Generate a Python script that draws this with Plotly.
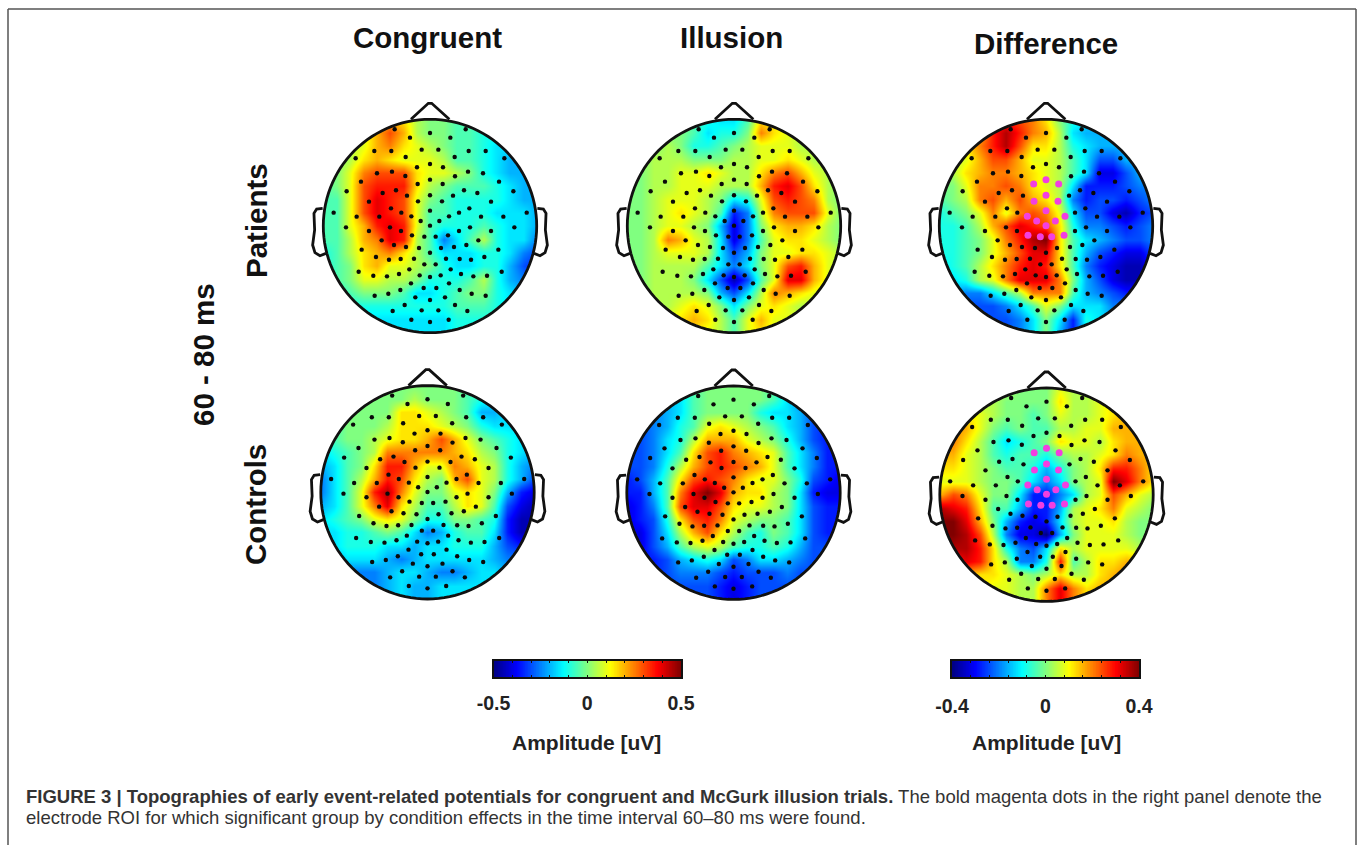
import numpy as np
import plotly.graph_objects as go

W, H = 1358, 845

COLUMN_TITLES = ["Congruent", "Illusion", "Difference"]
ROW_TITLES = ["Patients", "Controls"]
WINDOW_LABEL = "60 - 80 ms"
BAR_TITLE = "Amplitude [uV]"
CAPTION_BOLD = "FIGURE 3 | Topographies of early event-related potentials for congruent and McGurk illusion trials."
CAPTION_REST = " The bold magenta dots in the right panel denote the"
CAPTION_LINE2 = "electrode ROI for which significant group by condition effects in the time interval 60–80 ms were found."

# scalp grid (head radius = 320 units)
GRID = [-320, -280, -240, -200, -160, -120, -80, -40, 0, 40, 80, 120, 160, 200, 240, 280, 320]

# Values are tenths of each panel's colour limit, rows listed from the nose down
congruent_patients = [
    [0,0,1,1,3,4,3,1,0,0,-1,-1,-1,-2,-2,-2,-2],
    [0,0,1,2,4,6,4,1,0,0,-1,-1,-2,-2,-2,-2,-2],
    [0,0,1,2,4,5,3,2,1,0,-1,-1,-2,-3,-3,-3,-3],
    [0,0,1,3,4,3,2,2,2,1,-1,-1,-2,-3,-4,-4,-4],
    [0,0,2,5,6,6,6,3,2,2,1,0,-2,-3,-4,-4,-4],
    [-1,0,2,6,7,7,7,3,1,0,-1,-1,-1,-2,-3,-4,-4],
    [-1,-1,2,6,8,7,6,2,0,-1,-2,-2,-2,-2,-3,-4,-4],
    [-1,-1,2,6,8,7,6,2,-1,-1,-2,-2,-2,-3,-3,-3,-4],
    [-1,-1,2,4,7,8,7,2,-1,-2,-2,-2,-1,-2,-3,-3,-4],
    [-1,-1,1,4,5,8,7,1,-1,-5,-3,-1,1,-2,-3,-3,-5],
    [-2,-1,1,3,4,5,3,1,-1,-3,-3,-3,-2,-2,-3,-5,-6],
    [-2,-1,0,3,4,2,2,1,0,-2,-3,-3,-2,-2,-4,-6,-7],
    [-2,-1,0,2,2,1,1,0,-2,-2,-2,-1,1,-2,-4,-5,-6],
    [-3,-2,-1,0,0,0,-1,-3,-3,-2,-1,0,0,-2,-3,-4,-4],
    [-3,-3,-2,-2,-2,-2,-2,-2,-2,-2,-1,-1,-1,-2,-3,-3,-3],
    [-3,-3,-3,-3,-3,-3,-3,-3,-3,-3,-2,-2,-2,-2,-3,-3,-3],
    [-3,-3,-3,-3,-3,-3,-3,-3,-3,-3,-2,-2,-2,-2,-3,-3,-3],
]
illusion_patients = [
    [0,0,0,0,0,-1,-2,-3,-3,-1,3,3,2,1,0,0,0],
    [0,0,0,0,0,-1,-3,-2,-2,0,5,3,2,1,1,0,0],
    [0,0,0,1,0,-2,-2,-1,0,1,2,2,2,1,1,0,0],
    [0,0,1,1,1,0,0,0,1,1,2,2,3,2,1,1,0],
    [0,0,1,1,2,2,3,2,1,1,3,5,6,4,2,1,0],
    [0,0,1,1,2,2,2,1,1,1,4,7,8,6,3,1,0],
    [0,0,1,2,2,2,1,0,-3,-2,2,6,7,6,5,1,0],
    [0,0,1,2,3,2,1,-1,-7,-5,1,5,6,6,6,2,0],
    [0,0,1,2,2,1,0,-4,-8,-5,0,3,4,4,3,1,0],
    [0,0,1,5,4,2,1,-3,-8,-5,-1,2,3,3,2,1,0],
    [0,0,1,2,2,2,1,-3,-6,-4,0,2,2,3,3,2,1],
    [0,0,1,1,1,1,-1,-3,-5,-3,0,2,6,7,4,2,1],
    [0,0,1,1,1,0,-3,-6,-9,-6,-1,2,8,8,4,2,1],
    [0,0,1,1,1,1,0,-4,-6,-3,1,5,4,3,2,1,1],
    [0,0,1,1,2,3,2,0,-3,0,2,3,2,1,1,1,0],
    [0,0,1,2,3,4,3,1,-1,2,4,2,2,1,1,1,0],
    [0,0,1,2,3,3,2,1,-1,2,3,2,2,1,1,1,0],
]
difference_patients = [
    [1,2,3,4,6,7,6,5,3,0,-2,-3,-4,-4,-4,-4,-4],
    [1,2,3,4,7,9,7,5,4,1,-3,-4,-4,-4,-4,-4,-4],
    [1,2,3,5,7,9,6,3,3,1,-2,-3,-4,-4,-4,-4,-4],
    [0,1,2,4,6,6,4,2,2,1,-1,-3,-6,-6,-4,-4,-4],
    [0,1,3,4,5,5,4,3,2,1,-1,-3,-8,-8,-6,-4,-4],
    [0,0,2,5,5,6,5,3,2,1,-3,-7,-7,-7,-6,-5,-5],
    [-1,0,1,5,6,4,6,4,3,1,-5,-7,-6,-6,-7,-6,-5],
    [-2,-1,0,2,5,2,5,6,5,2,-3,-6,-6,-8,-9,-7,-6],
    [-2,-2,-1,1,4,6,8,7,6,3,-2,-5,-5,-6,-7,-6,-5],
    [-2,-2,-1,0,2,5,7,9,10,3,-1,-3,-4,-5,-6,-6,-5],
    [-2,-2,-1,0,2,4,6,8,8,3,-1,-4,-6,-7,-8,-8,-6],
    [-3,-2,-1,1,3,5,7,8,7,3,-1,-5,-7,-8,-9,-9,-7],
    [-3,-3,-2,1,2,5,8,8,8,5,0,-4,-6,-8,-9,-9,-7],
    [-4,-4,-5,-5,-3,-1,1,5,5,5,-1,-4,-5,-6,-7,-7,-6],
    [-5,-5,-6,-6,-6,-5,-3,-1,2,0,-3,-3,-3,-5,-5,-5,-5],
    [-6,-6,-6,-6,-6,-6,-5,-3,0,-3,-7,-2,-3,-4,-4,-4,-4],
    [-6,-6,-6,-6,-6,-6,-5,-3,0,-4,-7,-3,-3,-4,-4,-4,-4],
]
congruent_controls = [
    [-1,-1,0,0,0,0,0,0,0,0,0,-1,-2,-3,-3,-3,-3],
    [-1,-1,0,0,0,0,0,1,0,0,0,-1,-2,-3,-3,-3,-3],
    [-1,-1,0,0,0,0,3,3,2,1,0,-1,-4,-4,-3,-3,-3],
    [-2,-1,0,0,0,1,3,3,3,2,1,0,-2,-3,-3,-3,-3],
    [-2,-1,0,0,1,2,3,3,4,6,4,2,0,-1,-2,-3,-4],
    [-3,-2,-1,0,1,5,5,5,5,5,4,3,1,0,-2,-3,-4],
    [-4,-3,-1,0,3,7,7,4,2,2,5,4,2,1,-2,-4,-5],
    [-5,-3,-1,1,4,7,6,3,1,0,4,6,2,1,-2,-4,-6],
    [-5,-3,-1,2,7,9,5,2,0,0,2,3,2,0,-4,-7,-8],
    [-4,-3,-1,2,5,8,3,1,-1,-1,1,3,2,-1,-6,-8,-9],
    [-3,-2,-1,0,2,3,2,0,-2,-2,0,0,-1,-2,-7,-9,-9],
    [-3,-3,-2,-2,-1,0,-1,-3,-5,-4,-2,-1,-1,-3,-7,-9,-9],
    [-3,-3,-2,-2,-2,-3,-3,-4,-3,-3,-2,-2,-2,-4,-6,-7,-7],
    [-4,-4,-3,-3,-3,-4,-5,-4,-3,-3,-3,-3,-3,-4,-5,-5,-5],
    [-5,-5,-5,-5,-5,-4,-3,-3,-4,-5,-5,-4,-3,-3,-4,-4,-4],
    [-5,-5,-5,-5,-5,-4,-3,-4,-4,-3,-3,-3,-3,-3,-4,-4,-4],
    [-5,-5,-5,-5,-5,-4,-3,-4,-4,-3,-3,-3,-3,-3,-4,-4,-4],
]
illusion_controls = [
    [-6,-6,-5,-4,-3,-1,0,0,0,0,0,-1,-3,-5,-6,-6,-6],
    [-6,-6,-5,-4,-3,-1,0,0,0,0,0,-1,-3,-5,-6,-6,-6],
    [-6,-6,-5,-4,-3,-1,0,0,0,0,-2,-3,-3,-4,-6,-6,-6],
    [-6,-6,-5,-4,-2,-1,2,3,2,1,0,-1,-3,-4,-6,-7,-7],
    [-6,-6,-5,-3,-2,1,4,4,4,2,1,0,-2,-4,-6,-7,-7],
    [-6,-6,-5,-3,-1,3,6,7,5,4,3,2,-1,-3,-5,-7,-7],
    [-6,-6,-5,-2,1,4,6,7,6,5,4,2,-1,-3,-5,-7,-7],
    [-7,-6,-4,-1,3,6,7,6,5,3,2,2,0,-2,-6,-7,-8],
    [-7,-7,-4,-1,5,8,10,8,4,3,3,1,0,-3,-7,-8,-8],
    [-8,-7,-5,-1,6,8,8,6,3,2,2,1,0,-3,-6,-7,-7],
    [-8,-7,-6,-2,3,6,7,5,2,1,0,0,-1,-3,-6,-7,-7],
    [-8,-8,-6,-3,1,4,6,3,1,-1,-2,0,-1,-3,-6,-7,-7],
    [-8,-8,-6,-4,-1,1,2,1,-1,-2,-2,-1,-2,-4,-6,-6,-6],
    [-8,-7,-7,-6,-4,-3,-2,-3,-6,-5,-3,-3,-4,-5,-6,-6,-6],
    [-7,-7,-7,-6,-5,-5,-5,-6,-7,-6,-6,-6,-5,-6,-6,-6,-6],
    [-7,-7,-7,-6,-6,-6,-6,-7,-8,-7,-6,-6,-6,-6,-6,-6,-6],
    [-7,-7,-7,-6,-6,-6,-6,-7,-8,-7,-6,-6,-6,-6,-6,-6,-6],
]
difference_controls = [
    [1,1,1,1,1,1,0,0,0,2,1,1,1,3,4,4,4],
    [3,3,2,1,1,0,0,0,0,3,1,1,2,3,4,4,4],
    [5,4,3,2,1,0,0,-1,0,2,1,1,2,3,4,4,4],
    [5,5,4,2,0,-1,0,-1,-1,1,1,2,2,4,4,4,4],
    [5,5,3,1,-1,-3,-2,-1,0,3,2,2,1,3,4,4,4],
    [4,4,2,1,-1,-2,-1,-1,-2,0,1,1,2,3,5,4,4],
    [3,3,2,1,0,-1,-1,-2,-4,-2,0,1,3,7,7,5,3],
    [2,2,2,1,0,0,-1,-3,-5,-3,0,1,2,10,8,5,3],
    [4,6,5,2,0,0,-3,-7,-7,-5,-3,1,2,6,4,2,1],
    [9,8,7,3,-1,-1,-4,-7,-7,-4,1,2,3,5,2,1,0],
    [10,10,8,4,0,-4,-7,-8,-7,-3,1,2,2,3,1,0,0],
    [10,10,9,6,1,-5,-8,-8,-10,-4,0,2,2,2,1,0,0],
    [9,9,9,7,3,-2,-5,-6,-3,3,1,2,2,2,2,1,1],
    [5,7,8,7,3,1,-5,-5,-2,7,-1,1,3,3,4,4,3],
    [4,4,4,3,3,2,1,0,1,3,1,1,3,4,5,4,4],
    [3,3,3,3,2,2,1,1,5,8,5,3,4,4,4,4,4],
    [3,3,3,3,2,2,1,1,5,8,5,3,4,4,4,4,4],
]

# Electrode montage, head units
electrode_x = [-106,107,0,-60,61,-167,-116,-25,25,116,167,-223,-73,74,223,0,-39,39,-159,-114,-74,75,114,159,
    -207,0,-37,38,207,-250,-102,-142,-69,102,142,250,69,-183,-36,0,36,183,-117,-86,0,118,87,57,-289,-220,-152,
    -56,-28,28,153,220,290,-252,-120,0,120,253,-183,-87,-54,-17,17,54,87,183,-145,145,-108,-72,-33,33,72,109,0,
    -205,205,-162,-123,-88,-48,-17,17,48,89,123,163,-62,62,-214,-170,-129,-93,-31,0,32,93,130,171,215,-57,57,
    -19,19,-89,89,-166,-125,-44,45,125,167,0,-76,75,-112,-25,25,112,-56,56,0]
electrode_y = [290,290,279,265,265,225,225,229,229,225,225,203,207,207,203,186,176,176,158,163,150,149,163,158,
    133,139,126,126,133,104,107,99,91,107,99,104,91,73,74,92,74,73,53,40,46,53,40,29,40,28,28,
    29,15,15,28,28,40,-4,-4,1,-4,-4,-15,-15,-28,-32,-32,-28,-15,-15,-43,-43,-57,-63,-66,-66,-63,-57,-80,
    -71,-71,-93,-101,-99,-98,-115,-115,-98,-99,-101,-93,-130,-130,-137,-149,-151,-144,-148,-153,-148,-144,-151,-149,-137,-172,-172,
    -186,-186,-192,-192,-209,-203,-214,-214,-203,-209,-222,-237,-237,-255,-253,-253,-255,-281,-281,-288]
roi_x = [-37,0,38,-36,0,36,0,-56,-28,28,57,0,-54,-17,17,54]
roi_y = [126,139,126,74,92,74,46,29,15,15,29,1,-28,-32,-32,-28]

nose_x = [-57,-5,5,58]
nose_y = [320,368,368,320]
ear_x = [322,340,348,346,352,345,330,312]
ear_y = [53,51,38,-12,-57,-80,-89,-82]

LIMITS = [0.5, 0.5, 0.4]
PANELS = [
    (congruent_patients, 0, 0, 430, 226), (illusion_patients, 1, 0, 734, 226), (difference_patients, 2, 0, 1046, 226),
    (congruent_controls, 0, 1, 427.5, 492.3), (illusion_controls, 1, 1, 733.5, 492.7), (difference_controls, 2, 1, 1046.5, 494.7),
]
BARS = [(-0.5, 0, 0.5, 493.5, 681, 8), (-0.4, 0, 0.4, 952, 1139, 11)]

JET = [[0, "#000080"], [0.125, "#0000ff"], [0.375, "#00ffff"], [0.5, "#80ff80"],
       [0.625, "#ffff00"], [0.875, "#ff0000"], [1, "#800000"]]
R_PX = 106.7
BOX_PX = 130
FONT = "Liberation Sans, Arial, sans-serif"

fig = go.Figure()
layout = dict(width=W, height=H, margin=dict(l=0, r=0, t=0, b=0, pad=0, autoexpand=False), paper_bgcolor="white",
              plot_bgcolor="white", showlegend=False, hovermode=False)
shapes = []
annotations = []


def px_x(x):
    return x / W


def px_y(y):
    return 1 - y / H


def text(s, x, y, size, angle=0, bold=True, anchor="center", color="#111111"):
    annotations.append(dict(text=f"<b>{s}</b>" if bold else s, x=px_x(x), y=px_y(y), xref="paper", yref="paper",
                            xanchor=anchor, yanchor="middle", showarrow=False, textangle=angle,
                            font=dict(family=FONT, size=size, color=color)))


span = BOX_PX * 320 / R_PX
theta = np.radians(np.arange(0, 361, 3))
circle_x, circle_y = 320 * np.cos(theta), 320 * np.sin(theta)
circle_path = "M" + " L".join(f"{a:.1f},{b:.1f}" for a, b in zip(circle_x, circle_y)) + " Z"
mask_path = "M-350,-350 L350,-350 L350,350 L-350,350 Z " + circle_path
nose_path = "M" + " L".join(f"{a},{b}" for a, b in zip(nose_x, nose_y))
ear_r = "M" + " L".join(f"{a},{b}" for a, b in zip(ear_x, ear_y))
ear_l = "M" + " L".join(f"{-a},{b}" for a, b in zip(ear_x, ear_y))
HEAD_LINE = dict(color="#111111", width=2.8)

for i, (grid, col, row, cx, cy) in enumerate(PANELS, start=1):
    lim = LIMITS[col]
    xa, ya = f"x{i}", f"y{i}"
    layout[f"xaxis{i}"] = dict(domain=[px_x(cx - BOX_PX), px_x(cx + BOX_PX)], range=[-span, span], visible=False,
                               anchor=ya, fixedrange=True)
    layout[f"yaxis{i}"] = dict(domain=[px_y(cy + BOX_PX), px_y(cy - BOX_PX)], range=[-span, span], visible=False,
                               anchor=xa, fixedrange=True)
    fig.add_trace(go.Heatmap(x=GRID, y=GRID[::-1], z=[[v * lim / 10 for v in r] for r in grid], zmin=-lim, zmax=lim,
                             colorscale=JET, showscale=False, zsmooth="best", xaxis=xa, yaxis=ya, hoverinfo="skip"))
    fig.add_trace(go.Scatter(x=electrode_x, y=electrode_y, mode="markers", xaxis=xa, yaxis=ya, hoverinfo="skip",
                             marker=dict(color="#0a0a0a", size=4.4)))
    if col == 2:
        fig.add_trace(go.Scatter(x=roi_x, y=roi_y, mode="markers", xaxis=xa, yaxis=ya, hoverinfo="skip",
                                 marker=dict(color="#f23fe0", size=7)))
    common = dict(type="path", xref=xa, yref=ya, layer="above")
    shapes.append(dict(path=mask_path, fillcolor="white", fillrule="evenodd", line=dict(width=0), **common))
    shapes.append(dict(path=circle_path, fillcolor="rgba(0,0,0,0)", line=HEAD_LINE, **common))
    for p in (nose_path, ear_r, ear_l):
        shapes.append(dict(path=p, fillcolor="rgba(0,0,0,0)", line=HEAD_LINE, **common))

for j, (lo, mid, hi, x0, x1, standoff) in enumerate(BARS):
    i = 7 + j
    xa, ya = f"x{i}", f"y{i}"
    levels = np.linspace(lo, hi, 256)
    fig.add_trace(go.Heatmap(x=levels, y=[0], z=[levels], zmin=lo, zmax=hi, colorscale=JET, showscale=False,
                             xaxis=xa, yaxis=ya, hoverinfo="skip"))
    ticks = np.linspace(lo, hi, 11)
    labels = [f"<b>{lo:g}</b>", "", "", "", "", "<b>0</b>", "", "", "", "", f"<b>{hi:g}</b>"]
    layout[f"xaxis{i}"] = dict(domain=[px_x(x0), px_x(x1)], range=[lo, hi], anchor=ya, side="bottom", fixedrange=True,
                               tickmode="array", tickvals=list(ticks), ticktext=labels, ticks="inside", ticklen=2,
                               tickcolor="#111111", tickwidth=1, showline=True, linecolor="#111111", linewidth=1.5,
                               mirror="ticks", showgrid=False, zeroline=False, ticklabelstandoff=standoff,
                               tickfont=dict(family=FONT, size=19.5, color="#222222"))
    layout[f"yaxis{i}"] = dict(domain=[px_y(677), px_y(661)], range=[-0.5, 0.5], anchor=xa, visible=True,
                               showticklabels=False, ticks="", showline=True, linecolor="#111111", linewidth=1.5,
                               mirror=True, showgrid=False, zeroline=False, fixedrange=True)
    text(BAR_TITLE, (586 if j == 0 else 1046), 742, 21, color="#222222")

for name, x, y in zip(COLUMN_TITLES, [427, 731, 1046], [38, 38, 43]):
    text(name, x, y, 29.5)
text(ROW_TITLES[0], 257, 221, 29.5, angle=-90)
text(ROW_TITLES[1], 255, 505, 29.5, angle=-90)
text(WINDOW_LABEL, 204, 355, 29.5, angle=-90)

annotations.append(dict(text=f"<b>{CAPTION_BOLD}</b>{CAPTION_REST}", x=px_x(23.5), y=px_y(796.5), xref="paper", yref="paper",
                        xanchor="left", yanchor="middle", showarrow=False,
                        font=dict(family=FONT, size=18.5, color="#333333")))
annotations.append(dict(text=CAPTION_LINE2, x=px_x(23.5), y=px_y(817), xref="paper", yref="paper",
                        xanchor="left", yanchor="middle", showarrow=False,
                        font=dict(family=FONT, size=18.5, color="#333333")))

FRAME = dict(type="line", xref="paper", yref="paper", line=dict(color="#555555", width=1.5))
shapes.append(dict(x0=px_x(8), x1=px_x(8), y0=0, y1=px_y(9), **FRAME))
shapes.append(dict(x0=px_x(8), x1=px_x(1356), y0=px_y(9), y1=px_y(9), **FRAME))
shapes.append(dict(x0=px_x(1356), x1=px_x(1356), y0=0, y1=px_y(9), **FRAME))

layout["shapes"] = shapes
layout["annotations"] = annotations
fig.update_layout(**layout)
fig.write_html("out.html", config=dict(displayModeBar=False),
               post_script="document.body.style.margin='0';document.documentElement.style.overflow='hidden';")
